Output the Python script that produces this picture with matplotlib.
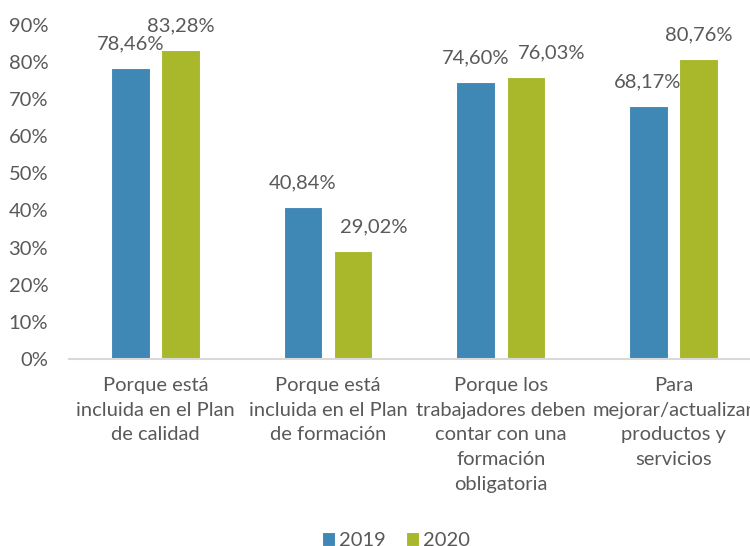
import numpy as np
import matplotlib.pyplot as plt

plt.rcParams['font.family'] = ['Lato', 'DejaVu Sans']

categorias = ["Porque está\nincluida en el Plan\nde calidad",
              "Porque está\nincluida en el Plan\nde formación",
              "Porque los\ntrabajadores deben\ncontar con una\nformación\nobligatoria",
              "Para\nmejorar/actualizar\nproductos y\nservicios"]
valores_2019 = [78.46, 40.84, 74.60, 68.17]
valores_2020 = [83.28, 29.02, 76.03, 80.76]
ticks_y = [0, 10, 20, 30, 40, 50, 60, 70, 80, 90]

# desplazamiento horizontal de algunas etiquetas (pixeles)
dx_2019 = [0, 0, 0, -1]
dx_2020 = [0, 21, 26, 0]

azul = '#3F87B4'
verde = '#A8B82A'
gris = '#595959'
fs = 14.5

fig = plt.figure(figsize=(7.5, 5.46), dpi=100)
ax = fig.add_axes([0.092, 0.3425, 0.921, 0.612])

x = np.arange(len(categorias))
ancho = 0.223
b1 = ax.bar(x - 0.145, valores_2019, ancho, color=azul, edgecolor='white', linewidth=0.8, label='2019')
b2 = ax.bar(x + 0.145, valores_2020, ancho, color=verde, edgecolor='white', linewidth=0.8, label='2020')

for xi, v, d in zip(x - 0.145, valores_2019, dx_2019):
    ax.annotate(f"{v:.2f}%".replace('.', ','), (xi, v), xytext=(d, 24),
                textcoords='offset pixels', ha='center', va='center',
                fontsize=fs, color=gris)
for xi, v, d in zip(x + 0.145, valores_2020, dx_2020):
    ax.annotate(f"{v:.2f}%".replace('.', ','), (xi, v), xytext=(d, 24),
                textcoords='offset pixels', ha='center', va='center',
                fontsize=fs, color=gris)

ax.set_xlim(-0.5, 3.5)
ax.set_ylim(0, 90)
ax.set_yticks(ticks_y)
ax.set_yticklabels([f"{t}%" for t in ticks_y])
ax.set_xticks(x)
ax.set_xticklabels(categorias, linespacing=1.55)
ax.tick_params(axis='y', length=0, pad=15, labelsize=fs, labelcolor=gris)
ax.tick_params(axis='x', length=0, pad=13, labelsize=fs, labelcolor=gris)

for s in ['top', 'right', 'left']:
    ax.spines[s].set_visible(False)
ax.spines['bottom'].set_color('#D9D9D9')
ax.spines['bottom'].set_linewidth(1.5)

fig.legend(handles=[b1, b2], loc='center', bbox_to_anchor=(0.528, 0.01),
           ncol=2, frameon=False, fontsize=fs, labelcolor=gris,
           handlelength=0.65, handleheight=0.65, handletextpad=0.2, columnspacing=1.0)

fig.savefig('out.png', dpi=100)
